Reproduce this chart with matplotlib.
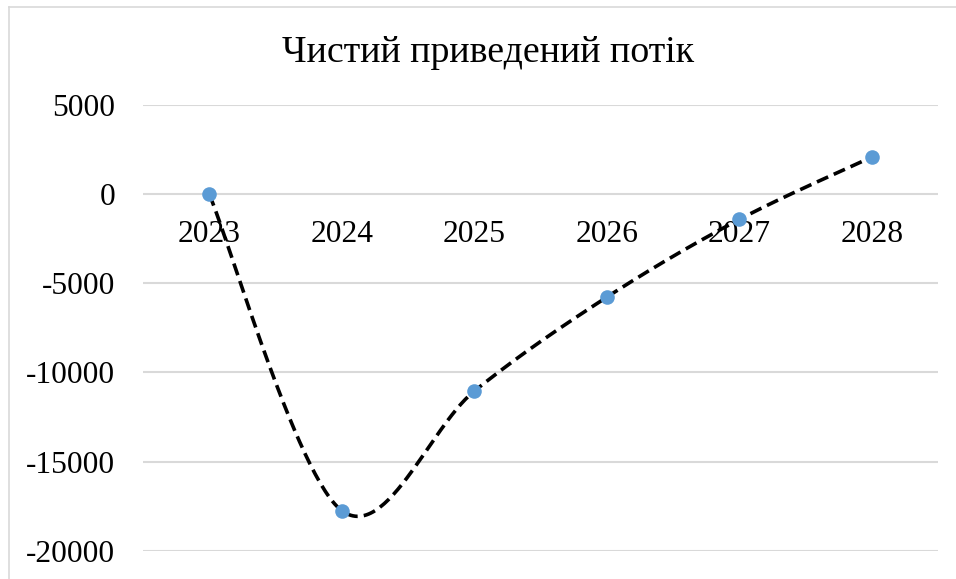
import matplotlib
matplotlib.use("Agg")
import matplotlib.pyplot as plt
import numpy as np
from matplotlib.lines import Line2D
from matplotlib.transforms import ScaledTranslation

years = ["2023", "2024", "2025", "2026", "2027", "2028"]
values = [0, -17750, -11050, -5780, -1420, 2080]
yticks = [5000, 0, -5000, -10000, -15000, -20000]
title = "Чистий приведений потік"

W, H, DPI = 956, 579, 100
plt.rcParams['font.family'] = ['Liberation Serif', 'DejaVu Serif']

fig = plt.figure(figsize=(W / DPI, H / DPI), dpi=DPI)
fig.patch.set_facecolor("white")

# plot area in pixels
left, right, top, bottom = 143, 938, 105, 550.7
ax = fig.add_axes([left / W, (H - bottom) / H, (right - left) / W, (bottom - top) / H])
ax.set_xlim(0.5, len(years) + 0.5)
ax.set_ylim(-20000, 5000)

for s in ax.spines.values():
    s.set_visible(False)

ax.set_yticks(yticks)
ax.set_yticklabels([str(v) for v in yticks], fontsize=22.7)
ax.tick_params(axis='y', length=0, pad=20)
ax.set_xticks([])
ax.grid(axis='y', color='#D9D9D9', linewidth=1.5)
ax.set_axisbelow(True)

x = np.arange(1, len(years) + 1, dtype=float)
y = np.array(values, dtype=float)

# Excel-style smoothing (Catmull-Rom Bezier) computed in display space
def to_px(xx, yy):
    return ax.transData.transform(np.column_stack([xx, yy]))

P = to_px(x, y)
Pe = np.vstack([P[0], P, P[-1]])
curve = []
t = np.linspace(0, 1, 60)[:, None]
for i in range(len(P) - 1):
    p0 = Pe[i + 1]
    p3 = Pe[i + 2]
    c1 = p0 + (Pe[i + 2] - Pe[i]) / 6.0
    c2 = p3 - (Pe[i + 3] - Pe[i + 1]) / 6.0
    seg = (1 - t) ** 3 * p0 + 3 * (1 - t) ** 2 * t * c1 + 3 * (1 - t) * t ** 2 * c2 + t ** 3 * p3
    curve.append(seg if i == 0 else seg[1:])
curve = np.vstack(curve)
cd = ax.transData.inverted().transform(curve)

ax.plot(cd[:, 0], cd[:, 1], color='black', linewidth=2.6, linestyle=(0, (3.4, 1.7)),
        zorder=3, dash_capstyle='butt')
ax.plot(x, y, linestyle='none', marker='o', markersize=10.5, color='#5B9BD5',
        markeredgewidth=0, zorder=4)

# category labels at the y=0 crossing
off = ScaledTranslation(0, -48 / DPI, fig.dpi_scale_trans)
for xi, lab in zip(x, years):
    ax.text(xi, 0, lab, ha='center', va='baseline', fontsize=22.7,
            transform=ax.transData + off, zorder=2)

fig.text(488 / W, (H - 62) / H, title, ha='center', va='baseline', fontsize=27.3)

# chart border (left and top visible)
fig.add_artist(Line2D([8.5 / W, 8.5 / W], [0, (H - 6.5) / H], color='#D9D9D9', linewidth=1.2))
fig.add_artist(Line2D([8.5 / W, 1], [(H - 6.5) / H, (H - 6.5) / H], color='#D9D9D9', linewidth=1.2))

fig.savefig("out.png", dpi=DPI)
